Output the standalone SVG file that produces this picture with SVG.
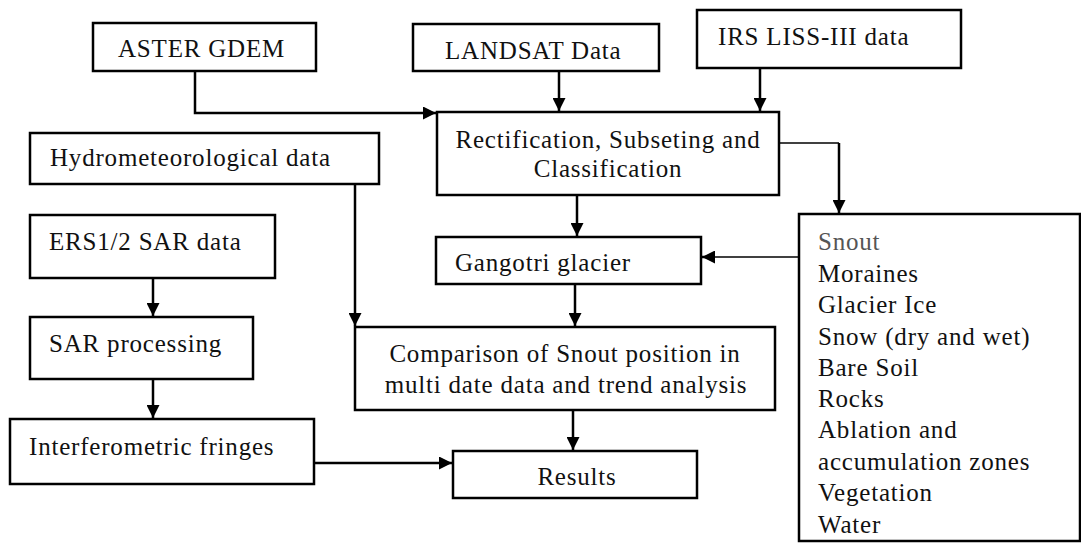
<svg xmlns="http://www.w3.org/2000/svg" width="1081" height="543" viewBox="0 0 1081 543">
<style>
.box{fill:#fff;stroke:#000;stroke-width:2.5}
.t{font-family:"Liberation Serif","Times New Roman",serif;font-size:25px;fill:#111;letter-spacing:0.8px}
.c{stroke:#000;stroke-width:2.5;fill:none}
.thin{stroke:#000;stroke-width:1.5;fill:none}
</style>
<defs>
<marker id="ah" viewBox="0 0 12 12" refX="12" refY="6" markerWidth="13" markerHeight="13" markerUnits="userSpaceOnUse" orient="auto">
<path d="M0,0 L12,6 L0,12 Z" fill="#000"/>
</marker>
</defs>
<rect width="1081" height="543" fill="#fff"/>
<g id="connectors">
<path class="c" d="M195,71 V113 H436" marker-end="url(#ah)"/>
<path class="c" d="M559,71 V111" marker-end="url(#ah)"/>
<path class="c" d="M760,68 V111" marker-end="url(#ah)"/>
<path class="thin" d="M779,143 H839"/>
<path class="c" d="M839,143 V213" marker-end="url(#ah)"/>
<path class="c" d="M577,195 V236" marker-end="url(#ah)"/>
<path class="thin" d="M799,257 H714"/>
<path class="c" d="M714,257 H702" marker-end="url(#ah)"/>
<path class="c" d="M575,284 V326" marker-end="url(#ah)"/>
<path class="c" d="M355,184 V326" marker-end="url(#ah)"/>
<path class="c" d="M573,410 V450" marker-end="url(#ah)"/>
<path class="c" d="M153,278 V316" marker-end="url(#ah)"/>
<path class="c" d="M153,379 V418" marker-end="url(#ah)"/>
<path class="c" d="M314,463 H452" marker-end="url(#ah)"/>
</g>
<g id="aster"><rect class="box" x="93" y="23" width="223" height="48"/><text class="t" x="118" y="57">ASTER GDEM</text></g>
<g id="landsat"><rect class="box" x="413" y="24" width="246" height="47"/><text class="t" x="445" y="59">LANDSAT Data</text></g>
<g id="irs"><rect class="box" x="697" y="10" width="264" height="58"/><text class="t" x="718" y="45">IRS LISS-III data</text></g>
<g id="hydro"><rect class="box" x="30" y="133" width="349" height="51"/><text class="t" x="50" y="166">Hydrometeorological data</text></g>
<g id="rect"><rect class="box" x="437" y="112" width="342" height="83"/><text class="t" x="608" y="148" text-anchor="middle">Rectification, Subseting and</text><text class="t" x="608" y="177" text-anchor="middle">Classification</text></g>
<g id="ers"><rect class="box" x="30" y="215" width="245" height="63"/><text class="t" x="49" y="250">ERS1/2 SAR data</text></g>
<g id="sarproc"><rect class="box" x="30" y="317" width="223" height="62"/><text class="t" x="49" y="352">SAR processing</text></g>
<g id="interf"><rect class="box" x="10" y="419" width="304" height="65"/><text class="t" x="29" y="455">Interferometric fringes</text></g>
<g id="gangotri"><rect class="box" x="436" y="237" width="265" height="47"/><text class="t" x="455" y="271">Gangotri glacier</text></g>
<g id="comparison"><rect class="box" x="355" y="327" width="420" height="83"/><text class="t" x="565" y="362" text-anchor="middle">Comparison of Snout position in</text><text class="t" x="566" y="393" text-anchor="middle">multi date data and trend analysis</text></g>
<g id="results"><rect class="box" x="453" y="451" width="244" height="47"/><text class="t" x="577" y="485" text-anchor="middle">Results</text></g>
<g id="classes"><rect class="box" x="799" y="214" width="281" height="327"/>
<text class="t" x="818" y="250" style="fill:#555">Snout</text>
<text class="t" x="818" y="282">Moraines</text>
<text class="t" x="818" y="313">Glacier Ice</text>
<text class="t" x="818" y="345">Snow (dry and wet)</text>
<text class="t" x="818" y="376">Bare Soil</text>
<text class="t" x="818" y="407">Rocks</text>
<text class="t" x="818" y="438">Ablation and</text>
<text class="t" x="818" y="470">accumulation zones</text>
<text class="t" x="818" y="501">Vegetation</text>
<text class="t" x="818" y="533">Water</text>
</g>
</svg>
